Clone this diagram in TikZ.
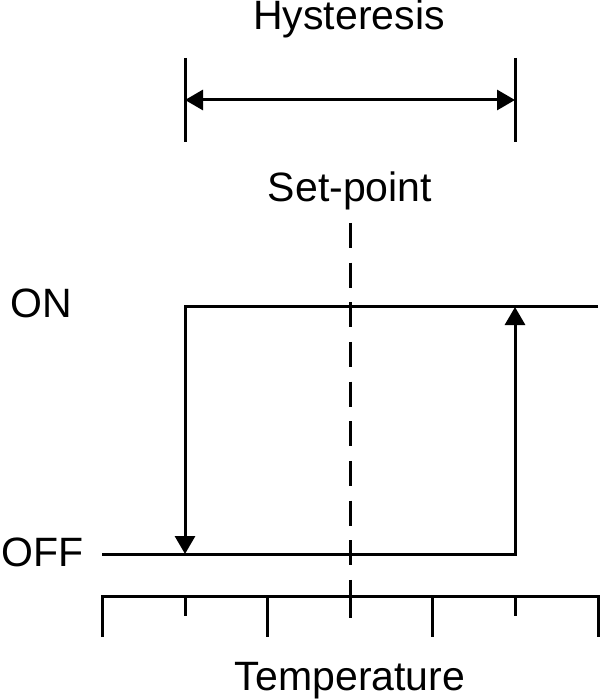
\documentclass[tikz,border=0pt]{standalone}
\usepackage{fontspec}
\setmainfont{Liberation Sans}
\usetikzlibrary{arrows.meta}

\begin{document}
\begin{tikzpicture}[x=0.5pt,y=-0.5pt,line width=1.5pt,
    lbl/.style={font=\fontsize{20.5}{24}\selectfont,inner sep=0pt},
    tip/.style={-{Triangle[length=9pt,width=10pt]}}]
\useasboundingbox (0,0) rectangle (600,699);

% Corner points of the loop
\coordinate (onL) at (185,307);
\coordinate (onR) at (598,307);
\coordinate (offL) at (102,554);
\coordinate (offR) at (515,554);
\coordinate (dn) at (185,554);
\coordinate (up) at (515,307);

% Labels
\node[lbl,anchor=base] (hyst) at (349,30) {Hysteresis};
\node[lbl,anchor=base] (setpt) at (350,202) {Set-point};
\node[lbl,anchor=base west] (on) at (9,318) {ON};
\node[lbl,anchor=base west] (off) at (0,566) {OFF};
\node[lbl,anchor=base] (temp) at (350,690) {Temperature};

% Hysteresis band
\draw (185,58) coordinate (hA) -- (185,142);
\draw (515,58) coordinate (hB) -- (515,142);
\draw[{Triangle[length=9pt,width=10pt]}-{Triangle[length=9pt,width=10pt]}]
    ([yshift=-21pt]hA) -- ([yshift=-21pt]hB);

% Set-point
\draw[dash pattern=on 12.5pt off 7.33pt] (350,223) -- (350,605);

% Switching loop
\draw[tip] (onR) -- (onL) -- (dn);
\draw[tip] (offL) -- (offR) -- (up);

% Temperature axis
\draw (102,637) -- (102,596) -- (598,596) -- (598,637);
\foreach \x in {267,432}{
    \draw (\x,596) -- (\x,637);
}
\foreach \x in {185,515}{
    \draw (\x,596) -- (\x,616);
}
\draw (350,596) -- (350,618);

\end{tikzpicture}
\end{document}
